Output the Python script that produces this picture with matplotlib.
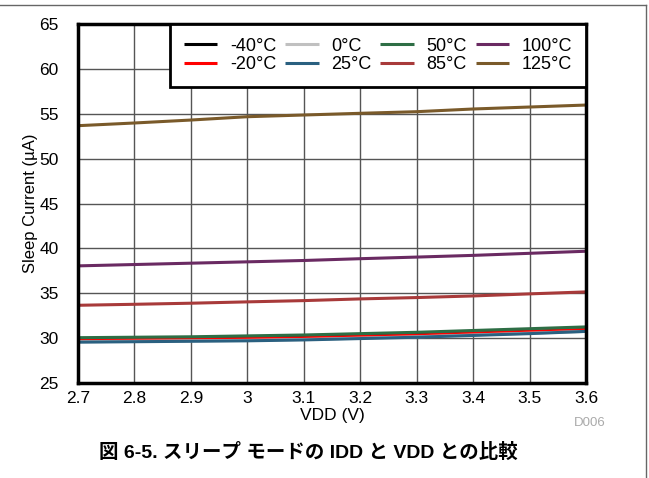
import matplotlib
matplotlib.use("Agg")
import matplotlib.pyplot as plt
from matplotlib.lines import Line2D

plt.rcParams['font.family'] = ['Liberation Sans', 'DejaVu Sans']

vdd = [2.7, 2.8, 2.9, 3.0, 3.1, 3.2, 3.3, 3.4, 3.5, 3.6]

temps = ["-40°C", "-20°C", "0°C", "25°C", "50°C", "85°C", "100°C", "125°C"]
colors = ["#000000", "#ff0000", "#c0c0c0", "#2a6080", "#2e6e45", "#a83a3a", "#6a2a62", "#7a5a2a"]

i_m40 = [29.85, 29.9, 29.95, 30.0, 30.1, 30.25, 30.4, 30.55, 30.75, 30.95]
i_m20 = [29.8, 29.85, 29.9, 29.95, 30.05, 30.2, 30.35, 30.55, 30.75, 30.95]
i_0 = [29.6, 29.65, 29.7, 29.75, 29.85, 30.0, 30.15, 30.35, 30.55, 30.75]
i_25 = [29.55, 29.6, 29.65, 29.7, 29.8, 29.95, 30.1, 30.3, 30.5, 30.75]
i_50 = [30.05, 30.1, 30.15, 30.25, 30.35, 30.5, 30.65, 30.85, 31.05, 31.25]
i_85 = [33.66, 33.77, 33.89, 34.04, 34.18, 34.37, 34.52, 34.70, 34.93, 35.15]
i_100 = [38.05, 38.2, 38.35, 38.5, 38.65, 38.85, 39.03, 39.22, 39.45, 39.68]
i_125 = [53.67, 53.97, 54.3, 54.67, 54.86, 55.05, 55.23, 55.53, 55.75, 55.97]

series = [i_m40, i_m20, i_0, i_25, i_50, i_85, i_100, i_125]

xticks = [2.7, 2.8, 2.9, 3.0, 3.1, 3.2, 3.3, 3.4, 3.5, 3.6]
xticklabels = ["2.7", "2.8", "2.9", "3", "3.1", "3.2", "3.3", "3.4", "3.5", "3.6"]
yticks = [25, 30, 35, 40, 45, 50, 55, 60, 65]

fig = plt.figure(figsize=(6.49, 4.78), dpi=100)
W, H = 649, 478
ax = fig.add_axes([78 / W, 1 - 383 / H, (586 - 78) / W, (383 - 24) / H])

for vals, lab, c in zip(series, temps, colors):
    ax.plot(vdd, vals, color=c, lw=2.2, label=lab, solid_capstyle='butt')

ax.set_xlim(2.7, 3.6)
ax.set_ylim(25, 65)
ax.set_xticks(xticks)
ax.set_xticklabels(xticklabels)
ax.set_yticks(yticks)
ax.tick_params(axis='x', length=0, labelsize=12.5, pad=6)
ax.tick_params(axis='y', length=0, labelsize=12.5, pad=14)
ax.grid(True, color='#555555', lw=1.0)
ax.set_axisbelow(True)
for s in ax.spines.values():
    s.set_linewidth(2.5)
    s.set_color('black')

ax.set_xlabel("VDD (V)", fontsize=12.5, labelpad=1)
ax.set_ylabel("Sleep Current (µA)", fontsize=12, labelpad=1)

leg = ax.legend(ncol=4, loc='upper right', fontsize=13, frameon=True,
                fancybox=False, borderaxespad=0, handlelength=1.85,
                handletextpad=0.7, columnspacing=0.5, labelspacing=0.1,
                borderpad=0.75)
leg.get_frame().set_edgecolor('black')
leg.get_frame().set_linewidth(2.0)
leg.get_frame().set_alpha(1)

fig.text(590 / W, 1 - 423 / H, "D006", color='#aaaaaa', fontsize=9.5,
         ha='center', va='center')
fig.text(308 / W, 1 - 452 / H, "図 6-5. スリープ モードの IDD と VDD との比較",
         fontsize=14, fontweight='bold', ha='center', va='center',
         family=['Liberation Sans', 'Noto Sans CJK JP'])

# outer frame lines
fig.add_artist(Line2D([0, 646 / W], [1 - 5 / H, 1 - 5 / H], transform=fig.transFigure,
                      color='#666666', lw=1.0))
fig.add_artist(Line2D([646 / W, 646 / W], [1 - 5 / H, 0], transform=fig.transFigure,
                      color='#666666', lw=1.0))

fig.savefig("out.png", dpi=100)
